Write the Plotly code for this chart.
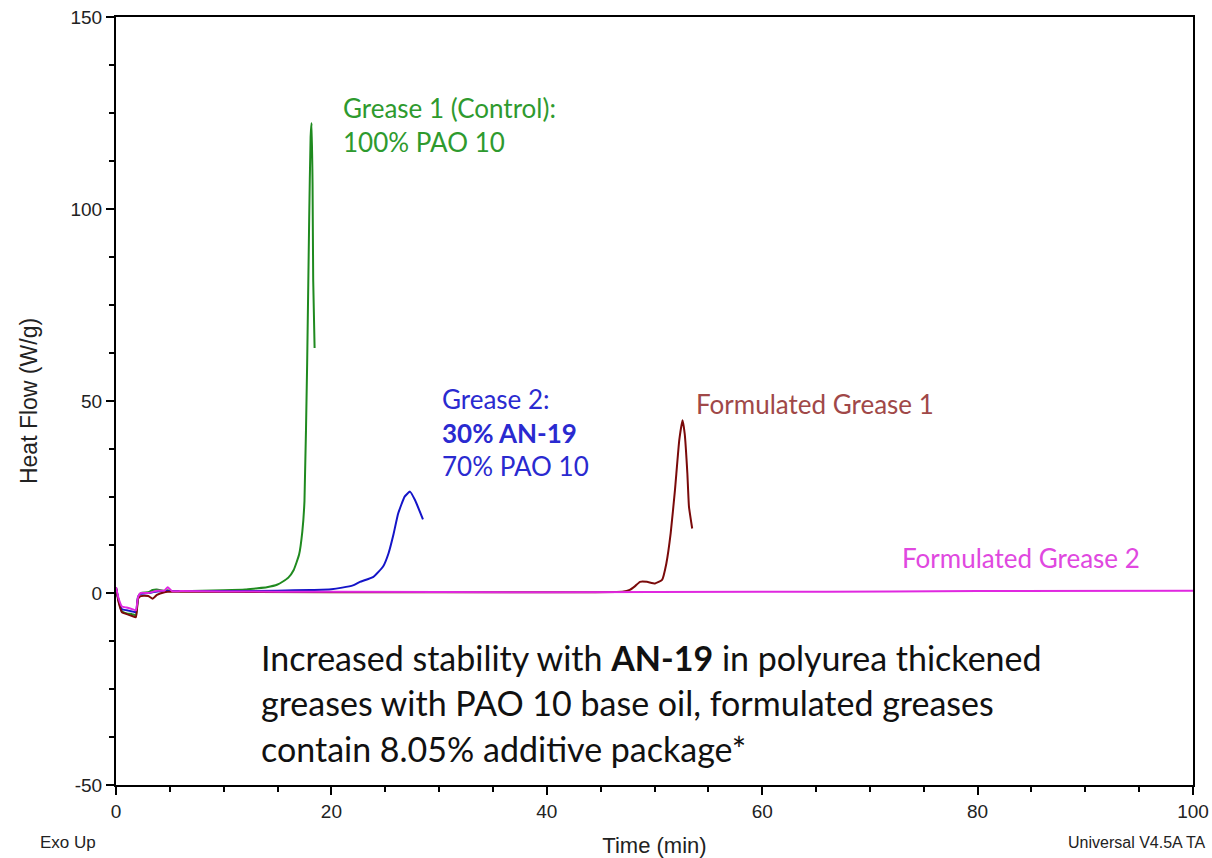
import plotly.graph_objects as go

# ---- data (time in min, heat flow in W/g) ----
g1_t = [0, 0.25, 0.55, 1.0, 1.5, 1.85, 2.05, 2.3, 3.0, 3.4, 3.8, 4.5, 4.8, 5.2, 6, 8, 10, 12, 13, 14, 15, 15.5, 16, 16.5, 17,
        17.3, 17.5, 17.75, 17.94, 18.07, 18.16, 18.25, 18.31, 18.44]
g1_v = [1.5, -2, -4.8, -5.3, -5.5, -5.8, -1, 0, 0.2, 0.8, 0.9, 0.6, 0.7, 0.5, 0.5, 0.6, 0.7, 0.9, 1.2, 1.5, 2.2, 3, 4, 6, 10,
        16, 24, 60, 98, 118.8, 122.4, 106.8, 81.5, 63.8]

g2_t = [0, 0.25, 0.55, 1.0, 1.5, 1.85, 2.05, 2.3, 3.0, 3.4, 3.8, 4.5, 4.8, 5.2, 6, 10, 15, 18, 20, 21, 22, 22.65, 23.9,
        24.8, 25.3, 25.75, 26.2, 26.8, 27.3, 27.76, 28.5]
g2_v = [1.3, -2, -4.2, -4.5, -4.8, -5, -1, -0.2, 0, 0.2, 0.4, 0.5, 0.5, 0.5, 0.5, 0.5, 0.6, 0.8, 1.0, 1.4, 2.0, 2.9, 4.2,
        6.9, 10.3, 15.1, 20.7, 25.1, 26.4, 24.2, 19.2]

f1_t = [0, 0.25, 0.55, 1.0, 1.5, 1.85, 2.05, 2.3, 3.0, 3.4, 3.8, 4.5, 4.8, 5.2, 6, 20, 40, 47.0, 47.7, 48.2, 48.65, 49.3,
        50.05, 50.7, 51.1, 51.5, 51.9, 52.3, 52.6, 52.8, 53.05, 53.2, 53.5]
f1_v = [1.3, -2.5, -5, -5.5, -6, -6.3, -1.5, -0.8, -0.8, -1.5, -0.5, 0.2, 0.3, 0.3, 0.3, 0.2, 0.2, 0.35, 0.8, 1.8, 2.9, 2.9,
        2.5, 3.4, 7.7, 15.5, 26.8, 39.8, 45, 41.6, 31.2, 22.5, 16.8]

f2_t = [0, 0.25, 0.55, 1.0, 1.5, 1.85, 2.05, 2.3, 3.0, 3.4, 3.8, 4.5, 4.8, 5.2, 6, 10, 20, 40, 60, 72, 80, 100]
f2_v = [1.5, -1.5, -3.5, -3.8, -4.2, -4.5, -1, 0, 0, 0.3, 0.6, 0.6, 1.5, 0.5, 0.5, 0.4, 0.3, 0.2, 0.3, 0.4, 0.5, 0.6]

series_names = ["Grease 1 (Control)", "Grease 2", "Formulated Grease 1", "Formulated Grease 2"]
line_colors = ["#1f8a1f", "#1414c8", "#7a0a0a", "#e028e0"]

x_ticks = [0, 20, 40, 60, 80, 100]
x_labels = ["0", "20", "40", "60", "80", "100"]
y_ticks = [-50, 0, 50, 100, 150]
y_labels = ["-50", "0", "50", "100", "150"]

fig = go.Figure()
for name, t, v, c in zip(series_names, [g1_t, g2_t, f1_t, f2_t], [g1_v, g2_v, f1_v, f2_v], line_colors):
    fig.add_trace(go.Scatter(x=t, y=v, mode="lines", name=name,
                             line=dict(color=c, width=2, shape="spline", smoothing=0.4)))

lab_font = "Lato, 'Open Sans', sans-serif"
def note(text, x, y, color, size=26, anchor="left"):
    fig.add_annotation(x=x, y=y, xref="x", yref="y", text=text, showarrow=False,
                       xanchor=anchor, yanchor="middle",
                       font=dict(family=lab_font, size=size, color=color))

note("Grease 1 (Control):", 20.9, 126.3, "#2e9a2e")
note("100% PAO 10", 20.9, 117.4, "#2e9a2e")
note("Grease 2:", 30.1, 50.5, "#2a2ad0")
note("<b>30% AN-19</b>", 30.1, 41.7, "#2a2ad0")
note("70% PAO 10", 30.1, 33.1, "#2a2ad0")
note("Formulated Grease 1", 53.7, 49.2, "#a04848")
note("Formulated Grease 2", 72.8, 9.1, "#e048e0")
note("Increased stability with <b>AN-19</b> in polyurea thickened", 13.3, -16.9, "#111111", size=34)
note("greases with PAO 10 base oil, formulated greases", 13.3, -28.6, "#111111", size=34)
note("contain 8.05% additive package*", 13.3, -40.4, "#111111", size=34)

L, R, T, B = 116, 19, 17, 73
W, H = 1212, 858
def px_note(text, px, py, size=17):
    fig.add_annotation(x=(px - L) / (W - L - R), y=(H - B - py) / (H - T - B), xref="paper", yref="paper",
                       text=text, showarrow=False, xanchor="left", yanchor="middle",
                       font=dict(family="Liberation Sans, Arial", size=size, color="#222"))

px_note("Exo Up", 38, 842)
px_note("Universal V4.5A TA", 1066, 842, size=16)

axis_font = dict(family="Liberation Sans, Arial", size=19, color="#222")
fig.update_layout(
    width=W, height=H,
    margin=dict(l=L, r=R, t=T, b=B),
    paper_bgcolor="white", plot_bgcolor="white",
    showlegend=False,
    xaxis=dict(range=[0, 100], tickvals=x_ticks, ticktext=x_labels, ticks="outside", ticklen=8, tickwidth=2,
               tickcolor="black",
               minor=dict(dtick=5, ticks="outside", ticklen=5, tickwidth=2, tickcolor="black"),
               showline=True, linecolor="black", linewidth=2, mirror=True, automargin=False,
               showgrid=False, zeroline=False, tickfont=axis_font,
               title=dict(text="Time (min)", font=dict(family="Liberation Sans, Arial", size=22, color="#222"),
                          standoff=20)),
    yaxis=dict(range=[-50, 150], tickvals=y_ticks, ticktext=y_labels, ticks="outside", ticklen=8, tickwidth=2,
               tickcolor="black",
               minor=dict(dtick=12.5, ticks="outside", ticklen=5, tickwidth=2, tickcolor="black"),
               showline=True, linecolor="black", linewidth=2, mirror=True, automargin=False,
               showgrid=False, zeroline=False, tickfont=axis_font,
               title=dict(text="Heat Flow (W/g)", font=dict(family="Liberation Sans, Arial", size=23, color="#222"),
                          standoff=26)),
)

fig.write_html("out.html", config={"displayModeBar": False},
               post_script="document.body.style.margin='0';document.body.style.overflow='hidden';")
